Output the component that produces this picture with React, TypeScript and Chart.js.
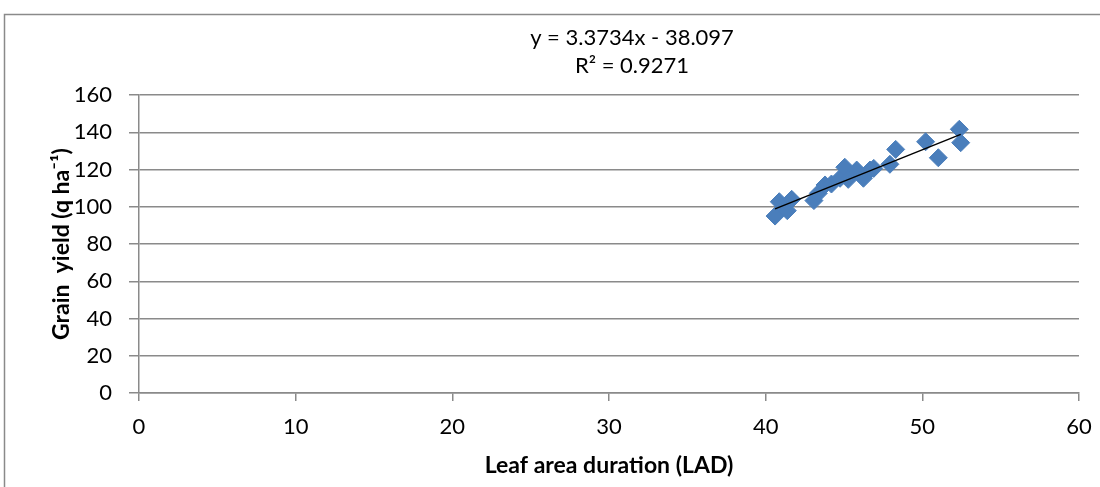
import React, { useEffect, useRef } from "react";
import { Chart, registerables } from "chart.js";

Chart.register(...registerables);

const lad: number[] = [40.6, 40.87, 41.38, 41.66, 43.08, 43.36, 43.79, 44.2, 44.75, 45.05, 45.27, 45.81, 46.24, 46.66, 46.9, 47.93, 48.3, 50.21, 51.02, 52.36, 52.45];
const grainYield: number[] = [95.0, 102.7, 97.9, 104.0, 103.3, 107.2, 111.7, 112.2, 115.3, 121.2, 114.7, 119.7, 115.3, 119.7, 120.6, 122.8, 130.8, 134.9, 126.3, 141.6, 134.4];
const slope = 3.3734;
const intercept = -38.097;
const equationLines: string[] = ["y = 3.3734x - 38.097", "R² = 0.9271"];
const xTitle = "Leaf area duration (LAD)";
const yTitle = "Grain  yield (q ha⁻¹)";

const FONT = "Lato, 'Open Sans', sans-serif";

export default function App() {
  const ref = useRef<HTMLCanvasElement | null>(null);
  useEffect(() => {
    if (!ref.current) return;
    const pts = lad.map((x, i) => ({ x, y: grainYield[i] }));
    const xMin = Math.min(...lad);
    const xMax = Math.max(...lad);
    const trend = [xMin, xMax].map((x) => ({ x, y: slope * x + intercept }));
    const decor = {
      id: "decor",
      beforeDraw(chart: any) {
        const ctx = chart.ctx;
        ctx.save();
        ctx.strokeStyle = "#8a8a8a";
        ctx.lineWidth = 1.5;
        ctx.beginPath();
        ctx.moveTo(4.5, 600);
        ctx.lineTo(4.5, 14.5);
        ctx.lineTo(1200, 14.5);
        ctx.stroke();
        ctx.restore();
      },
      afterDraw(chart: any) {
        const ctx = chart.ctx;
        ctx.save();
        ctx.fillStyle = "#000";
        ctx.font = `22px ${FONT}`;
        ctx.textAlign = "center";
        ctx.textBaseline = "middle";
        ctx.fillText(equationLines[0], 632, 38);
        ctx.fillText(equationLines[1], 632, 66);
        ctx.restore();
      },
    };
    const chart = new Chart(ref.current, {
      type: "scatter",
      data: {
        datasets: [
          {
            type: "line",
            data: trend,
            borderColor: "#000",
            borderWidth: 1.5,
            pointRadius: 0,
            fill: false,
            order: 0,
          } as any,
          {
            data: pts,
            backgroundColor: "#4A7EBB",
            borderColor: "#4A7EBB",
            borderWidth: 1,
            pointStyle: "rectRot",
            pointRadius: 9,
            order: 1,
          },
        ],
      },
      options: {
        animation: false,
        responsive: false,
        maintainAspectRatio: false,
        layout: { padding: { left: 44, right: 21, top: 95, bottom: 4 } },
        plugins: { legend: { display: false }, tooltip: { enabled: false } },
        scales: {
          x: {
            type: "linear",
            min: 0,
            max: 60,
            ticks: { stepSize: 10, color: "#000", padding: 13, font: { family: FONT, size: 22 }, maxRotation: 0 },
            grid: { display: true, drawOnChartArea: false, drawTicks: true, tickLength: 8, color: "#8a8a8a", lineWidth: 1.5 },
            border: { display: true, color: "#8a8a8a", width: 1.5 },
            title: { display: true, text: xTitle, color: "#000", font: { family: FONT, size: 23, weight: "bold" }, padding: 4 },
            afterFit(scale: any) {
              scale.height = 90;
              scale.paddingRight = 0;
              scale.paddingLeft = 0;
            },
          },
          y: {
            type: "linear",
            min: 0,
            max: 160,
            ticks: { stepSize: 20, color: "#000", padding: 17, font: { family: FONT, size: 22 } },
            grid: { display: true, drawOnChartArea: true, drawTicks: true, tickLength: 10, color: "#8a8a8a", lineWidth: 1.5 },
            border: { display: true, color: "#8a8a8a", width: 1.5 },
            title: { display: true, text: yTitle, color: "#000", font: { family: FONT, size: 23, weight: "bold" }, padding: 4 },
            afterFit(scale: any) {
              scale.width = 95;
            },
          },
        },
      },
      plugins: [decor],
    });
    return () => chart.destroy();
  }, []);
  return (
    <div style={{ position: "absolute", left: 0, top: 0, width: 1100, height: 487, background: "#fff", overflow: "hidden" }}>
      <canvas ref={ref} width={1100} height={487} style={{ width: 1100, height: 487, display: "block" }} />
    </div>
  );
}
